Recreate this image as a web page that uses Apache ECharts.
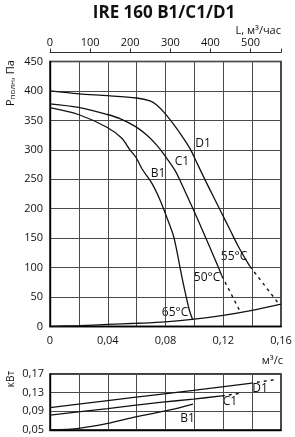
<!DOCTYPE html>
<html><head><meta charset="utf-8">
<script src="https://cdn.jsdelivr.net/npm/echarts@6/dist/echarts.min.js"></script>
<style>html,body{margin:0;padding:0;background:#fff}#c{width:295px;height:437px}</style>
</head><body><div id="c"></div>
<script>
// Pressure curves: [flow m3/s, Pa]
const d1Solid = [[0,400],[0.02,395],[0.04,392],[0.06,388],[0.0693,383],[0.0739,376],[0.0796,362],[0.0854,344],[0.0912,324],[0.097,302],[0.1025,274],[0.108,246],[0.1135,219],[0.119,192],[0.1245,165],[0.13,138],[0.1355,114],[0.1385,102]];
const d1Dash = [[0.1385,102],[0.158,40]];
const c1Solid = [[0,378],[0.0196,372],[0.0397,360],[0.0485,353],[0.0596,339],[0.067,325],[0.0739,308],[0.0796,290],[0.0866,265],[0.0923,236],[0.0992,199],[0.1062,160],[0.1108,134],[0.115,110],[0.119,86]];
const c1Dash = [[0.119,86],[0.1316,26]];
const b1Solid = [[0,371.5],[0.0196,360],[0.0397,338],[0.0496,320],[0.0554,300],[0.0596,287],[0.0639,267],[0.0704,244],[0.0762,215],[0.0808,186],[0.0854,155],[0.0877,130],[0.09,101],[0.0923,73],[0.0965,28],[0.0988,12]];
const sysCurve = [[0,0],[0.02,1.5],[0.04,3.5],[0.06,5.5],[0.08,8],[0.10,12.5],[0.12,19],[0.14,27.5],[0.16,38]];
// Power curves: [flow m3/s, kW]
const pD1Solid = [[0,0.098],[0.04,0.113],[0.0762,0.1264],[0.0993,0.135],[0.1385,0.150]];
const pD1Dash = [[0.1385,0.150],[0.156,0.158]];
const pC1Solid = [[0,0.082],[0.04,0.096],[0.0762,0.109],[0.0993,0.1162],[0.119,0.123]];
const pC1Dash = [[0.119,0.123],[0.1316,0.1286]];
const pB1Solid = [[0,0.050],[0.02,0.0536],[0.04,0.064],[0.06,0.0786],[0.083,0.093],[0.099,0.1057]];
// Axis ticks
const pTicks = {min:0, max:450, step:50};
const qTicks = {min:0, max:0.16, step:0.02};
const lTicks = {min:0, max:576, step:100};
const wTicks = {min:0.05, max:0.17, step:0.04};

const F = '"Open Sans", sans-serif';
const ink = '#111';
const gridCol = '#4a4a4a';
const fmtQ = v => { const k = Math.round(v*100); if (k===0) return '0'; return (k%4===0) ? v.toFixed(2).replace('.',',') : ''; };

function line(data, xi, yi, dashed, smooth) {
  return {type:'line', xAxisIndex:xi, yAxisIndex:yi, data, showSymbol:false, symbol:'none', smooth: smooth===undefined?0.3:smooth,
    lineStyle:{color:ink, width: dashed?1.4:1.3, type: dashed?[3,4]:'solid'}, silent:true, animation:false};
}
function txt(t, x, y, size, extra) {
  return Object.assign({type:'text', x, y, style:{text:t, fill:ink, font: (size||12)+'px '+F, textAlign:'center', textVerticalAlign:'middle'}}, extra||{});
}

const chart = echarts.init(document.getElementById('c'), null, {renderer:'canvas'});
chart.setOption({
  animation:false,
  grid:[
    {left:50, top:61.5, width:231, height:265, show:true, borderColor:'#000', borderWidth:1.4},
    {left:50, top:374, width:231, height:56, show:true, borderColor:'#000', borderWidth:1.4}
  ],
  xAxis:[
    {gridIndex:0, type:'value', min:qTicks.min, max:qTicks.max, interval:qTicks.step, position:'bottom',
      axisLine:{show:true, lineStyle:{color:'#000', width:1.4}}, axisTick:{show:false},
      axisLabel:{formatter:fmtQ, fontSize:11, fontFamily:F, color:ink, margin:9},
      splitLine:{show:true, lineStyle:{color:gridCol, width:1}}},
    {gridIndex:0, type:'value', min:lTicks.min, max:lTicks.max, interval:lTicks.step, position:'top', offset:9,
      axisLine:{show:true, onZero:false, lineStyle:{color:'#333', width:1}}, axisTick:{show:true, length:4, lineStyle:{color:'#333'}},
      axisLabel:{formatter:v => v>500 ? '' : String(v), fontSize:11, fontFamily:F, color:ink, margin:4},
      splitLine:{show:false}},
    {gridIndex:1, type:'value', min:qTicks.min, max:qTicks.max, interval:qTicks.step,
      axisLine:{show:true, lineStyle:{color:'#000', width:1.4}}, axisTick:{show:false}, axisLabel:{show:false},
      splitLine:{show:true, lineStyle:{color:gridCol, width:1}}}
  ],
  yAxis:[
    {gridIndex:0, type:'value', min:pTicks.min, max:pTicks.max, interval:pTicks.step,
      axisLine:{show:true, lineStyle:{color:'#000', width:1.4}}, axisTick:{show:false},
      axisLabel:{fontSize:11, fontFamily:F, color:ink, margin:7},
      splitLine:{show:true, lineStyle:{color:gridCol, width:1}}},
    {gridIndex:1, type:'value', min:wTicks.min, max:wTicks.max, interval:wTicks.step,
      axisLine:{show:true, lineStyle:{color:'#000', width:1.4}}, axisTick:{show:false},
      axisLabel:{formatter:v => v.toFixed(2).replace('.',','), fontSize:11, fontFamily:F, color:ink, margin:6},
      splitLine:{show:true, lineStyle:{color:gridCol, width:1}}}
  ],
  series:[
    line(d1Solid,0,0,false), line(d1Dash,0,0,true,false),
    line(c1Solid,0,0,false), line(c1Dash,0,0,true,false),
    line(b1Solid,0,0,false),
    line(sysCurve,0,0,false),
    line(pD1Solid,2,1,false), line(pD1Dash,2,1,true,false),
    line(pC1Solid,2,1,false), line(pC1Dash,2,1,true,false),
    line(pB1Solid,2,1,false)
  ],
  graphic:[
    {type:'text', x:164, y:13, style:{text:'IRE 160 B1/C1/D1', fill:ink, font:'bold 17px '+F, textAlign:'center', textVerticalAlign:'middle'}},
    {type:'text', x:281, y:31, style:{text:'L, м³/час', fill:ink, font:'11px '+F, textAlign:'right', textVerticalAlign:'middle'}},
    {type:'text', x:283, y:361, style:{text:'м³/с', fill:ink, font:'11px '+F, textAlign:'right', textVerticalAlign:'middle'}},
    {type:'text', x:11, y:106, rotation:Math.PI/2, style:{text:'{a|Р}{b|полн}{a|, Па}', textAlign:'left', textVerticalAlign:'middle',
      rich:{a:{fontSize:11, fontFamily:F, fill:ink, color:ink}, b:{fontSize:8, fontFamily:F, fill:ink, color:ink, verticalAlign:'bottom'}}}},
    {type:'text', x:11, y:379, rotation:Math.PI/2, style:{text:'кВт', fill:ink, font:'10px '+F, textAlign:'center', textVerticalAlign:'middle'}},
    txt('D1',203,144,12), txt('C1',182,162,12), txt('B1',158,174,12),
    txt('55°C',234,257,12), txt('50°C',207,278,12), txt('65°C',175,313,12),
    txt('D1',260,389,12), txt('C1',230,402,12), txt('B1',187.5,419,12)
  ]
});
</script></body></html>
